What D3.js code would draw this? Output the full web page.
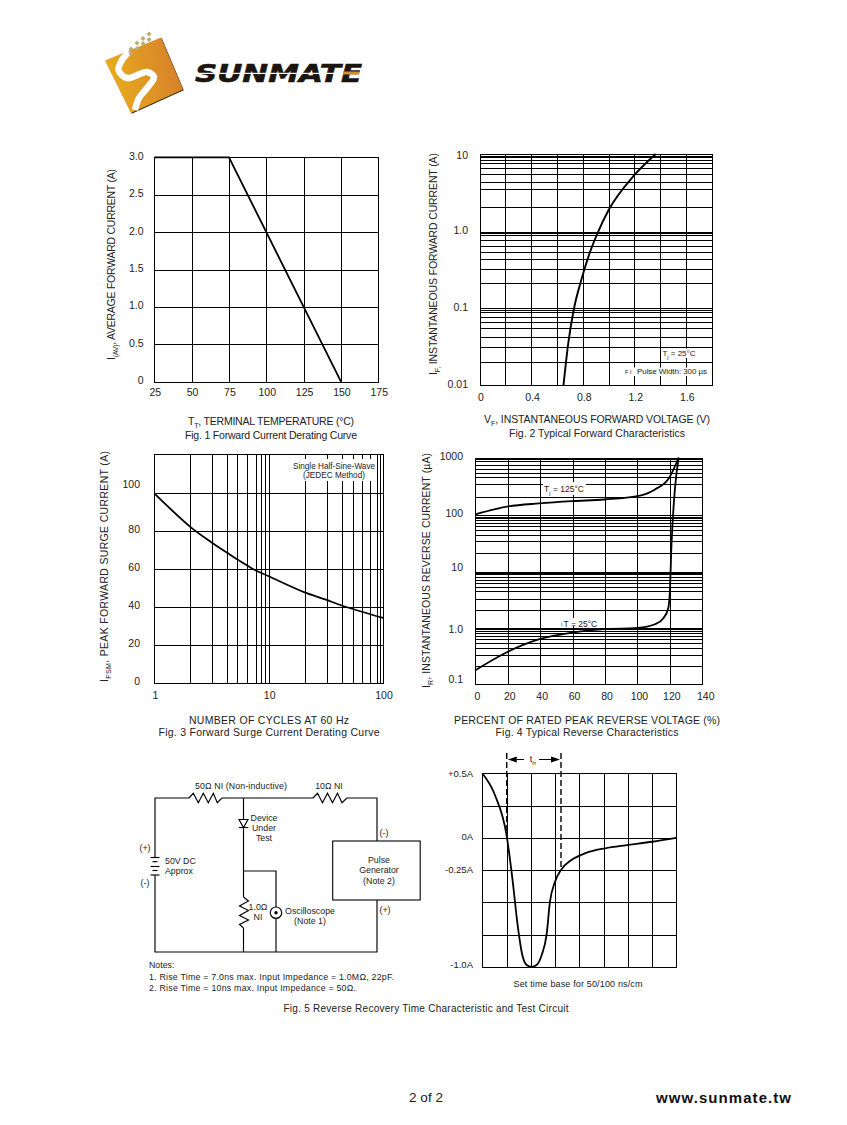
<!DOCTYPE html>
<html><head><meta charset="utf-8">
<script src="https://cdn.jsdelivr.net/npm/d3@7/dist/d3.min.js"></script>
<style>html,body{margin:0;background:#fff}svg{display:block}text{font-family:"Liberation Sans",Arial,sans-serif;fill:#222}</style>
</head><body><svg id="page" width="847" height="1125"></svg>
<script>
// ---------- Fig. 1
const f1Grid_x=[25,50,75,100,125,150,175], f1Grid_y=[0,.5,1,1.5,2,2.5,3];
const f1Labels_y=["0","0.5","1.0","1.5","2.0","2.5","3.0"];
const f1Temp=[25,75,150], f1Amps=[3,3,0];
// ---------- Fig. 2 (grid lines, as log10 of current)
const f2Grid_x=[0,.2,.4,.6,.8,1,1.2,1.4,1.6,1.8];
const f2GridExp=[-2,-1.694,-1.499,-1.37,-1.261,-1.183,-1.118,-1.049,-1.023,-1,-.677,-.492,-.362,-.267,-.189,-.115,-.054,-.02,-.008,.316,.542,.641,.741,.815,.879,.922,.957,.974,1];
const f2Labels_x=[0,.4,.8,1.2,1.6], f2Labels_y=[.01,.1,1,10];
const f2Volt=[.651,.69,.733,.785,.857,.917,1.0,1.193,1.366], f2Amps=[.01,.037,.1,.22,.537,.955,1.86,5.15,10];
// ---------- Fig. 3
const f3GridExp=[0,.315,.502,.638,.726,.813,.886,.933,.97,1,1.315,1.507,1.638,1.734,1.818,1.885,1.944,1.973,2];
const f3Grid_y=[0,20,40,60,80,100];
const f3Labels_x=[1,10,100];
const f3Cycles=[1,2.05,3.15,4.34,5.38,6.49,7.57,9.9,20.4,31.1,44.8,100], f3Amps=[100,82.5,74.3,68.7,65,62,59.6,56.5,48,44.2,40.7,34.4];
// ---------- Fig. 4
const f4Grid_x=[0,20,40,60,80,100,120,140];
const f4GridExp=[-1,-.682,-.483,-.365,-.276,-.2,-.142,-.094,-.059,-.024,0,.312,.506,.652,.723,.783,.836,.889,.942,.965,.988,1.312,1.524,1.63,1.718,1.794,1.853,1.895,1.93,1.953,1.988,2.306,2.536,2.659,2.73,2.806,2.876,2.936,2.972,3];
const f4Labels_y=[.1,1,10,100,1000], f4LabelNames_y=["0.1","1.0","10","100","1000"];
const f4Pct=[0,20.4,39.5,59.8,79.6,100,110.8,119.6,125.4], f4Hot=[100,138,156,171,183,209,275,443,1000];
const f4PctCold=[0,20.4,39.5,59.8,79.6,100,110.8,116,119,120,121,123,125.4], f4Cold=[.177,.38,.626,.82,.94,.99,1.15,1.47,2.2,4.4,29,257,1000];
// ---------- Fig. 5 waveform
const f5Div=[0,1,2,3,4,5,6,7,8], f5Grid_y=[.5,.25,0,-.25,-.5,-.75,-1];
const f5Labels=[.5,0,-.25,-1], f5LabelNames=["+0.5A","0A","-0.25A","-1.0A"];
const f5Time=[0,.52,1,1.24,1.457,1.65,1.83,2.03,2.24,2.45,2.65,2.79,3,3.24,3.68,4.23,5.06,6.02,7,8];
const f5Current=[.5,.332,.022,-.313,-.675,-.907,-.985,-1,-.985,-.907,-.752,-.494,-.339,-.25,-.171,-.12,-.081,-.055,-.03,0];

const svg=d3.select("#page");
svg.append("rect").attr("width",847).attr("height",1125).attr("fill","#fff");

// text helper: parts = [[string,"sub"?],...]; width fits the run with letter spacing
function label(g,x,y,parts,o={}){
  const t=g.append("text").attr("x",x).attr("y",y).attr("font-size",o.size||10.5).attr("text-anchor",o.anchor||"middle");
  if(o.rotate) t.attr("transform",`rotate(-90 ${x} ${y})`);
  (Array.isArray(parts)?parts:[[parts]]).forEach((p,i,a)=>{
    const s=t.append("tspan").text(p[0]);
    if(p[1]==="sub") s.attr("font-size",(o.size||10.5)*.68).attr("dy",3);
    else if(i&&a[i-1][1]==="sub") s.attr("dy",-3);
  });
  if(o.width){t.attr("textLength",o.width).attr("lengthAdjust","spacing");}
  return t;
}
function blank(g,x0,y0,x1,y1){g.append("rect").attr("x",x0).attr("y",y0).attr("width",x1-x0).attr("height",y1-y0).attr("fill","#fff");}

function frame(xs,ys,xTicks,yTicks){
  const g=svg.append("g");
  const [x0,x1]=xs.range(),[y0,y1]=ys.range();
  const grid=g.append("g").attr("shape-rendering","crispEdges");
  grid.append("g").attr("transform",`translate(0,${y0})`).call(d3.axisBottom(xs).tickValues(xTicks).tickSize(y1-y0).tickSizeOuter(0).tickFormat(""));
  grid.append("g").attr("transform",`translate(${x0},0)`).call(d3.axisLeft(ys).tickValues(yTicks).tickSize(x0-x1).tickSizeOuter(0).tickFormat(""));
  grid.selectAll(".domain").remove();
  grid.selectAll("line").attr("stroke","#000").attr("stroke-width",1);
  grid.append("rect").attr("x",x0+.5).attr("y",y1+.5).attr("width",x1-x0).attr("height",y0-y1).attr("fill","none").attr("stroke","#000");
  return g;
}
function curve(g,xs,ys,X,Y,w=1.8,type=d3.curveMonotoneX){
  g.append("path").attr("d",d3.line().x(d=>xs(X[d])).y(d=>ys(Y[d])).curve(type)(d3.range(X.length)))
   .attr("fill","none").attr("stroke","#000").attr("stroke-width",w);
}

// ===== Fig 1
{
  const x=d3.scaleLinear([25,175],[154.3,378.3]), y=d3.scaleLinear([0,3],[381.7,157.3]);
  const g=frame(x,y,f1Grid_x,f1Grid_y);
  curve(g,x,y,f1Temp,f1Amps,1.8,d3.curveLinear);
  f1Grid_x.forEach(v=>label(g,x(v)+1,396,String(v)));
  f1Grid_y.forEach((v,i)=>label(g,143.5,y(v)+2.5,f1Labels_y[i],{anchor:"end"}));
  label(g,114.5,264.5,[["I"],["(AV)","sub"],[", AVERAGE FORWARD CURRENT (A)"]],{rotate:true,width:191});
  label(g,271,425,[["T"],["T","sub"],[", TERMINAL TEMPERATURE (°C)"]],{width:166});
  label(g,271,439,"Fig. 1  Forward Current Derating Curve",{width:172});
}
// ===== Fig 2
{
  const x=d3.scaleLinear([0,1.8],[479.5,711.7]), y=d3.scaleLog([.01,10],[385.3,154]);
  const g=frame(x,y,f2Grid_x,f2GridExp.map(e=>10**e));
  blank(g,662,348.5,697,358); blank(g,623,367.5,708,376);
  curve(g,x,y,f2Volt,f2Amps,1.9);
  f2Labels_x.forEach(v=>label(g,x(v)+1.5,401,v===0?"0":v.toFixed(1)));
  f2Labels_y.forEach(v=>label(g,468,y(v)+(v===10?5:2.5),v>=1?(v===1?"1.0":"10"):String(v),{anchor:"end"}));
  label(g,436.5,264,[["I"],["F,","sub"],[" INSTANTANEOUS FORWARD CURRENT (A)"]],{rotate:true,width:222});
  label(g,597,423,[["V"],["F","sub"],[", INSTANTANEOUS FORWARD VOLTAGE (V)"]],{width:226});
  label(g,597,437,"Fig. 2  Typical Forward Characteristics",{width:176});
  label(g,679,356,[["T"],["j","sub"],[" = 25°C"]],{size:8});
  label(g,625,374,"F I",{size:5.5,anchor:"start"});
  label(g,637,374,"Pulse Width: 300 µs",{size:8,anchor:"start",width:70});
}
// ===== Fig 3
{
  const x=d3.scaleLog([1,100],[154.3,383]), y=d3.scaleLinear([0,120.7],[683.3,454]);
  const g=frame(x,y,f3GridExp.map(e=>10**e),f3Grid_y);
  blank(g,290,459,377,481);
  curve(g,x,y,f3Cycles,f3Amps,1.8,d3.curveCatmullRom);
  f3Labels_x.forEach(v=>label(g,x(v)+1,699,String(v)));
  f3Grid_y.forEach(v=>label(g,140,y(v)+(v===100?-5.5:2),String(v),{anchor:"end"}));
  label(g,107.5,566.5,[["I"],["FSM","sub"],[", PEAK FORWARD SURGE CURRENT (A)"]],{rotate:true,width:231});
  label(g,269,724,"NUMBER OF CYCLES AT 60 Hz",{width:160});
  label(g,269,736,"Fig. 3  Forward Surge Current Derating Curve",{width:221});
  label(g,334,469,"Single Half-Sine-Wave",{size:8.2});
  label(g,334,477.5,"(JEDEC Method)",{size:8.2});
}
// ===== Fig 4
{
  const x=d3.scaleLinear([0,140],[475.3,702.3]), y=d3.scaleLog([.1,1000],[684.3,457.7]);
  const g=frame(x,y,f4Grid_x,f4GridExp.map(e=>10**e));
  blank(g,543,482,586,495); blank(g,560,618,597,626);
  curve(g,x,y,f4Pct,f4Hot); curve(g,x,y,f4PctCold,f4Cold);
  f4Grid_x.forEach((v,i)=>label(g,x(v)+2+(v===140?1.5:0),700,String(v)));
  const nudge=[-1.5,5,-.5,3,2.5];
  f4Labels_y.forEach((v,i)=>label(g,463,y(v)+nudge[i],f4LabelNames_y[i],{anchor:"end"}));
  label(g,429.5,570.5,[["I"],["R","sub"],[", INSTANTANEOUS REVERSE CURRENT (µA)"]],{rotate:true,width:235});
  label(g,587,724,"PERCENT OF RATED PEAK REVERSE VOLTAGE (%)",{width:266});
  label(g,587,736,"Fig. 4  Typical Reverse Characteristics",{width:183});
  label(g,564,492,[["T"],["j","sub"],[" = 125°C"]],{size:8.5});
  label(g,561,626,"i",{size:6,anchor:"start"});
  label(g,563.5,627,"T  = 25°C",{size:8.5,anchor:"start"});
}
// ===== Fig 5 waveform
{
  const x=d3.scaleLinear([0,8],[482.3,676.3]), y=d3.scaleLinear([-1,.5],[967,773.3]);
  const g=frame(x,y,f5Div,f5Grid_y);
  curve(g,x,y,f5Time,f5Current);
  f5Labels.forEach((v,i)=>label(g,473,y(v)+(v===-1?1:(v===.5?3.5:2.5)),f5LabelNames[i],{anchor:"end",size:9.5}));
  const ax=x(1)+.2, bx=561, top=753, arrowY=759.5;
  g.append("line").attr("x1",ax).attr("x2",ax).attr("y1",top).attr("y2",y(0)).attr("stroke","#000").attr("stroke-width",1.4).attr("stroke-dasharray","6 3");
  g.append("line").attr("x1",bx).attr("x2",bx).attr("y1",top).attr("y2",y(-.25)).attr("stroke","#000").attr("stroke-width",1.4).attr("stroke-dasharray","6 3");
  [[ax+1,ax+10,524],[bx-1,bx-10,bx-22]].forEach(([tip,base,end])=>{
    g.append("path").attr("d",`M${tip},${arrowY}L${base},${arrowY-3}L${base},${arrowY+3}Z`).attr("fill","#000");
    g.append("line").attr("x1",base).attr("x2",end).attr("y1",arrowY).attr("y2",arrowY).attr("stroke","#000");
  });
  label(g,533,762,[["t"],["rr","sub"]],{size:9});
  label(g,578,987,"Set time base for 50/100 ns/cm",{size:9,width:129});
  label(g,426,1012,"Fig. 5  Reverse Recovery Time Characteristic and Test Circuit",{size:10,width:285});
}
// ===== Test circuit
{
  const g=svg.append("g");
  const pts=(a)=>d3.line()(a);
  const wires=[
   [[155,857.5],[155,798],[189,798]],[[222,798],[313,798]],[[347,798],[377,798],[377,841]],
   [[377,900],[377,952],[155,952],[155,875]],
   [[243.5,798],[243.5,897]],[[243.5,928],[243.5,952]],
   [[243.5,871],[276,871],[276,907]],[[276,918.5],[276,952]],
   [[189,798],[193.3,793.3],[198.3,802.7],[203.3,793.3],[208.3,802.7],[213.3,793.3],[217.3,802.7],[222,798]],
   [[313,798],[317.5,793.3],[322.5,802.7],[327.5,793.3],[332.5,802.7],[337.5,793.3],[342,802.7],[347,798]],
   [[243.5,897],[248.5,901],[239.5,906],[248.5,910.5],[239.5,915.5],[248.5,920],[239.5,924.5],[243.5,928]],
   [[238.8,827.5],[248.2,827.5]],
   [[150.5,857.5],[159.5,857.5]],[[152.5,861.7],[157.5,861.7]],[[150.5,866.5],[159.5,866.5]],[[152.5,870.5],[157.5,870.5]],[[150.5,875],[159.5,875]]
  ];
  wires.forEach(w=>g.append("path").attr("d",pts(w)).attr("fill","none").attr("stroke","#000").attr("stroke-width",1.15));
  g.append("path").attr("d",pts([[239,819.5],[248,819.5],[243.5,827.5]])+"Z").attr("fill","#fff").attr("stroke","#000").attr("stroke-width",1.15);
  g.append("rect").attr("x",332.7).attr("y",841).attr("width",87.5).attr("height",59).attr("fill","#fff").attr("stroke","#000").attr("stroke-width",1.1);
  g.append("circle").attr("cx",276).attr("cy",912.7).attr("r",5.7).attr("fill","#fff").attr("stroke","#000").attr("stroke-width",1.2);
  g.append("circle").attr("cx",276).attr("cy",912.7).attr("r",1.7).attr("fill","#000");
  const T=(x,y,s,o={})=>label(g,x,y,s,Object.assign({size:8.8},o));
  T(241,788.5,"50Ω NI (Non-inductive)",{width:92}); T(329,788.5,"10Ω NI");
  T(264,820.5,"Device");T(264,830.5,"Under");T(264,840.5,"Test");
  T(145,850.5,"(+)");T(145,885.5,"(-)");
  T(165,863.5,"50V DC",{anchor:"start"});T(165,873.5,"Approx",{anchor:"start"});
  T(384,835.5,"(-)");T(385,912.5,"(+)");
  T(379,862.5,"Pulse");T(379,872.5,"Generator");T(379,883.5,"(Note 2)");
  T(258,909.5,"1.0Ω");T(258,919.5,"NI");
  T(310,913.5,"Oscilloscope");T(310,923.5,"(Note 1)");
  T(149,967.5,"Notes:",{anchor:"start"});
  T(149,979.5,"1. Rise Time = 7.0ns max. Input Impedance = 1.0MΩ, 22pF.",{anchor:"start",width:245});
  T(149,990.5,"2. Rise Time = 10ns max. Input Impedance = 50Ω.",{anchor:"start",width:207});
}
// ===== Logo
{
  const g=svg.append("g");
  const defs=svg.append("defs");
  const lg=defs.append("linearGradient").attr("id","logoFill").attr("x1","0").attr("y1","0.6").attr("x2","1").attr("y2","0.4");
  lg.append("stop").attr("offset","0").attr("stop-color","#e9ae1c");
  lg.append("stop").attr("offset","1").attr("stop-color","#d67f2c");
  const sq=[[105,60.5],[161,37.5],[183,89.5],[131,113]];
  g.append("path").attr("d",d3.line()(sq.map(p=>[p[0]+.8,p[1]+.8]))+"Z").attr("fill","#3a2a10");
  g.append("path").attr("d",d3.line()(sq)+"Z").attr("fill","url(#logoFill)");
  g.append("path").attr("d",d3.line().curve(d3.curveCatmullRom)([[129,52],[122,60],[118.5,70],[127,78],[147,72],[154,77],[147,88],[139,98],[135,110]]))
    .attr("fill","none").attr("stroke","#fff").attr("stroke-width",6.5);
  [[149,34],[143,38.5],[149,39.5],[137,43],[143,43.5],[131,49],[137,48.5],[131,54]].forEach(p=>
    g.append("rect").attr("x",p[0]-1.8).attr("y",p[1]-1.8).attr("width",3.6).attr("height",3.6).attr("transform",`rotate(45 ${p[0]} ${p[1]})`).attr("fill","#b8ae70"));
  const t=g.append("text").attr("x",195).attr("y",82).attr("font-size",24).attr("font-weight","bold").attr("font-style","italic").attr("textLength",167).attr("lengthAdjust","spacingAndGlyphs").text("SUNMATE");
  t.style("font-family",'"DejaVu Sans"').style("fill","#1b1510").style("stroke","#1b1510").style("stroke-width",.6);
  g.append("rect").attr("x",192).attr("y",72.8).attr("width",173).attr("height",1.2).attr("fill","#fff");
  g.append("rect").attr("x",343).attr("y",71.5).attr("width",16).attr("height",3).attr("fill","#d9892e");
}
// ===== Footer
label(svg,426,1102,"2 of 2",{size:13.5});
label(svg,656,1103,"www.sunmate.tw",{size:15,anchor:"start",width:135}).attr("font-weight","bold").style("fill","#111");
</script></body></html>
